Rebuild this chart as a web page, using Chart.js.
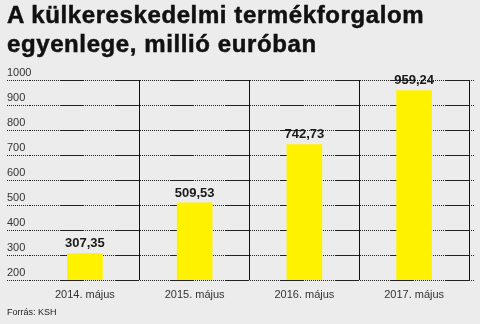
<!DOCTYPE html>
<html lang="hu">
<head>
  <meta charset="UTF-8" />
  <title>Külkereskedelmi termékforgalom</title>
  <script src="https://cdn.jsdelivr.net/npm/chart.js"></script>
  <style>
    body { margin: 0; background: #edecec; font-family: "Liberation Sans", Arial, sans-serif; }
    .wrap { position: relative; width: 480px; height: 324px; overflow: hidden; }
    h1 {
      position: absolute; left: 7px; top: 0; margin: 0;
      font-size: 24px; line-height: 29px; font-weight: bold; color: #111;
      letter-spacing: 0.6px; -webkit-text-stroke: 0.5px #111;
    }
    .source { position: absolute; left: 7px; top: 307px; font-size: 9px; color: #222; }
    canvas { position: absolute; left: 0; top: 0; }
  </style>
</head>
<body>
  <div class="wrap">
    <canvas id="chart" width="480" height="324"></canvas>
    <h1>A külkereskedelmi termékforgalom<br>egyenlege, millió euróban</h1>
    <div class="source">Forrás: KSH</div>
  </div>

  <script>
    const categories = ['2014. május', '2015. május', '2016. május', '2017. május'];
    const values = [307.35, 509.53, 742.73, 959.24];
    const yMin = 200;
    const yMax = 1000;
    const yStep = 100;

    // mixed dotted / solid rule like in the print graphic
    const dash = [];
    for (let i = 0; i < 15; i++) dash.push(1, 1);
    dash.push(24, 1);

    const valueLabels = {
      id: 'valueLabels',
      afterDraw(chart) {
        const c = chart.ctx;
        const meta = chart.getDatasetMeta(0);
        c.save();
        c.font = 'bold 13px "Liberation Sans", Arial, sans-serif';
        c.fillStyle = '#1a1a1a';
        c.textAlign = 'center';
        c.textBaseline = 'alphabetic';
        meta.data.forEach((bar, i) => {
          c.fillText(values[i].toFixed(2).replace('.', ','), bar.x, bar.y - 6);
        });
        c.restore();
      }
    };

    new Chart(document.getElementById('chart'), {
      type: 'bar',
      data: {
        labels: categories,
        datasets: [{
          data: values,
          backgroundColor: '#fff200',
          borderWidth: 0,
          barPercentage: 0.325,
          categoryPercentage: 1
        }]
      },
      options: {
        responsive: false,
        animation: false,
        layout: { padding: { top: 80, left: 7, right: 5, bottom: 0 } },
        plugins: { legend: { display: false }, tooltip: { enabled: false } },
        scales: {
          x: {
            offset: true,
            afterFit: s => { s.height = 44; },
            border: { display: false },
            grid: {
              offset: true,
              drawTicks: false,
              lineWidth: 1,
              color: ctx => (ctx.index === 0 || ctx.index === categories.length) ? 'rgba(0,0,0,0)' : '#111'
            },
            ticks: {
              color: '#333',
              padding: 8,
              font: { size: 11, family: '"Liberation Sans", Arial, sans-serif' }
            }
          },
          y: {
            min: yMin,
            max: yMax,
            z: 1,
            afterFit: s => { s.width = 23; },
            border: { display: false, dash: dash },
            grid: {
              color: '#222',
              tickColor: '#222',
              tickLength: 23,
              tickBorderDash: dash
            },
            ticks: {
              stepSize: yStep,
              mirror: true,
              padding: -23,
              labelOffset: -7,
              color: '#333',
              font: { size: 11, family: '"Liberation Sans", Arial, sans-serif' },
              callback: v => String(v)
            }
          },
          y2: {
            position: 'right',
            min: yMin,
            max: yMax,
            z: 1,
            afterFit: s => { s.width = 6; },
            border: { display: false },
            grid: {
              drawOnChartArea: false,
              tickColor: '#222',
              tickLength: 6,
              tickBorderDash: [1, 1]
            },
            ticks: { display: false, stepSize: yStep }
          }
        }
      },
      plugins: [valueLabels]
    });
  </script>
</body>
</html>
